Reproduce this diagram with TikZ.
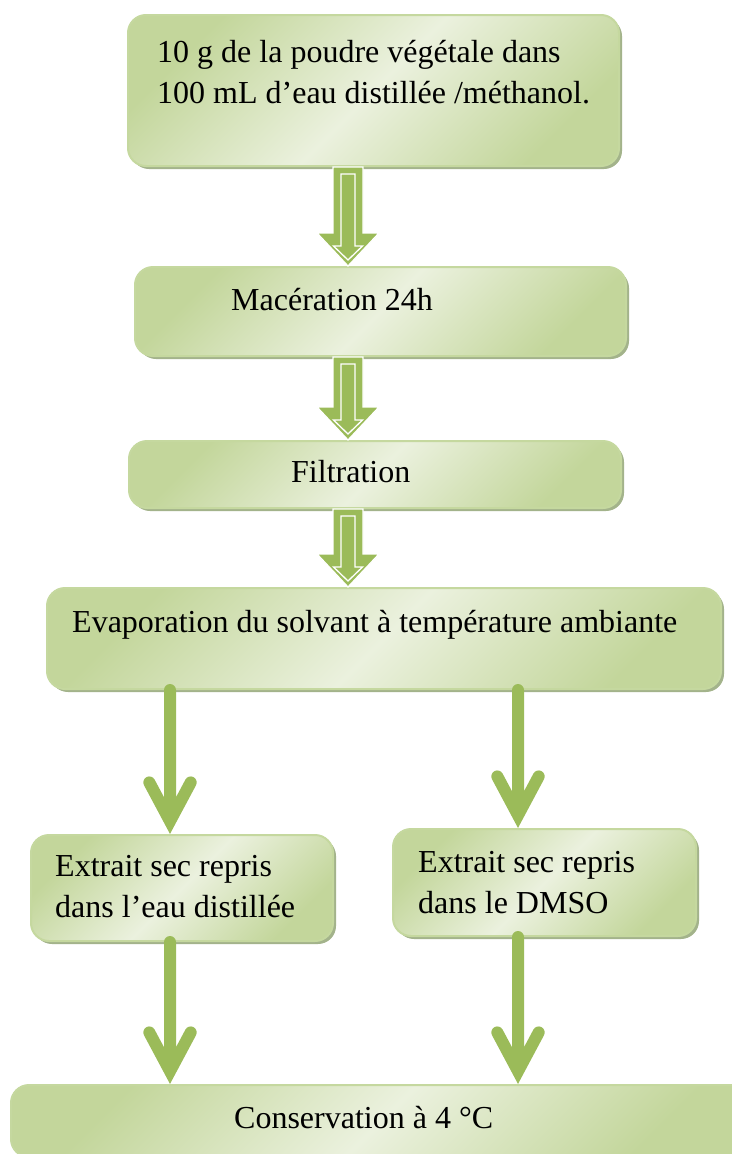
\documentclass[tikz,border=0pt]{standalone}
\usepackage{fontspec}
\setmainfont{Liberation Serif}
\usetikzlibrary{calc,shadows}
\definecolor{arrowgreen}{HTML}{9BBB59}
\definecolor{boxdark}{HTML}{C3D69B}
\definecolor{boxlight}{HTML}{EBF1DE}
\definecolor{boxline}{HTML}{C5D89F}
\definecolor{shadowc}{HTML}{A3B38B}
\tikzset{
  stepbox/.style={rectangle, rounded corners=18pt, draw=boxline, line width=2pt,
    top color=boxdark, bottom color=boxdark, middle color=boxlight, shading angle=45,
    drop shadow={shadow xshift=3pt, shadow yshift=-3pt, fill=shadowc, opacity=1},
    anchor=north west, inner sep=0pt},
  lbl/.style={anchor=base west, inner sep=0pt, font=\fontsize{32}{41}\selectfont, text=black},
  thickshaft/.style={draw=arrowgreen, line width=12pt},
  thickhead/.style={draw=arrowgreen, line width=12pt, line cap=round, line join=miter},
}
\newcommand{\blockarrow}[3]{%
  \path let \p1=(#1 |- #2.south), \p2=(#1 |- #3.north) in
    [fill=arrowgreen] (\x1-15pt,\y1) -- (\x1+15pt,\y1) -- (\x1+15pt,\y2+33pt)
      -- (\x1+31pt,\y2+33pt) -- (\x1,\y2) -- (\x1-31pt,\y2+33pt) -- (\x1-15pt,\y2+33pt) -- cycle
    [draw=white, line width=1.3pt, fill=arrowgreen] (\x1-7pt,\y1-7pt) -- (\x1+7pt,\y1-7pt)
      -- (\x1+7pt,\y2+20pt) -- (\x1+14.5pt,\y2+20pt) -- (\x1,\y2+6pt) -- (\x1-14.5pt,\y2+20pt)
      -- (\x1-7pt,\y2+20pt) -- cycle;}
\newcommand{\thickarrow}[3]{%
  \path let \p1=(#1 |- #2.south), \p2=(#1 |- #3.north) in
    [thickshaft] (\x1,\y1) -- (\x1,\y2+13pt)
    [thickhead] (\x1-20.7pt,\y2+51.6pt) -- (\x1,\y2+12.8pt) -- (\x1+20.7pt,\y2+51.6pt);}
\begin{document}
\begin{tikzpicture}[x=1pt,y=-1pt]
\useasboundingbox (0,0) rectangle (731,1154);
\coordinate (ax) at (348,0);
\coordinate (lx) at (170,0);
\coordinate (rx) at (518,0);
% boxes
\node[stepbox, minimum width=491pt, minimum height=151pt] (b1) at (127,14) {};
\node[stepbox, minimum width=491pt, minimum height=89pt] (b2) at (134,266) {};
\node[stepbox, minimum width=492pt, minimum height=67pt] (b3) at (128,440) {};
\node[stepbox, minimum width=674pt, minimum height=101pt] (b4) at (46,587) {};
\node[stepbox, minimum width=302pt, minimum height=106pt] (b5) at (30,834) {};
\node[stepbox, minimum width=303pt, minimum height=107pt] (b6) at (392,828) {};
\node[stepbox, minimum width=740pt, minimum height=72pt] (b7) at (10,1084) {};
% arrows
\blockarrow{ax}{b1}{b2}
\blockarrow{ax}{b2}{b3}
\blockarrow{ax}{b3}{b4}
\thickarrow{lx}{b4}{b5}
\thickarrow{rx}{b4}{b6}
\thickarrow{lx}{b5}{b7}
\thickarrow{rx}{b6}{b7}
% texts
\node[lbl] (t1a) at (157,62) {10 g de la poudre végétale dans};
\node[lbl] (t1b) at (157,103) {100 mL d’eau distillée /méthanol.};
\node[lbl] (t2) at (231,310) {Macération 24h};
\node[lbl] (t3) at (291,482) {Filtration};
\node[lbl] (t4) at (72,632) {Evaporation du solvant à température ambiante};
\node[lbl] (t5a) at (55,876) {Extrait sec repris};
\node[lbl] (t5b) at (55,917) {dans l’eau distillée};
\node[lbl] (t6a) at (418,872) {Extrait sec repris};
\node[lbl] (t6b) at (418,913) {dans le DMSO};
\node[lbl] (t7) at (234,1128) {Conservation à 4 °C};
\end{tikzpicture}
\end{document}
